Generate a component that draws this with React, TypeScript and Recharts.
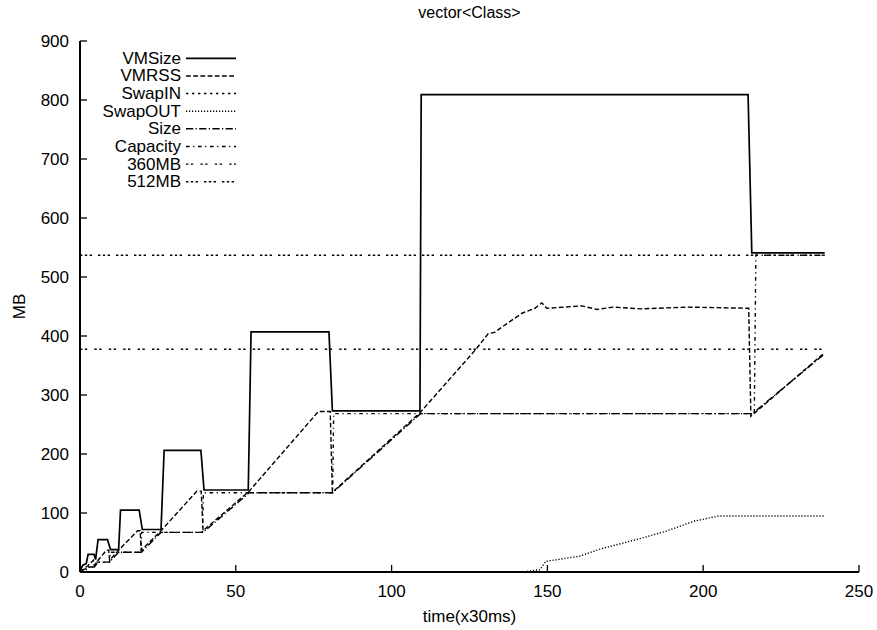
import { LineChart, Line, XAxis, YAxis } from "recharts";

const FONT = '"Liberation Sans", Arial, sans-serif';

// time (x30ms) / MB breakpoints
const vmSizeT = [0, 1, 2, 2.6, 4.5, 5, 5.8, 8.8, 9.8, 12.4, 13, 19, 20, 26, 27, 38.8, 39.8, 54, 54.9, 79.9, 81, 109.1, 109.5, 214.4, 215.6, 239];
const vmSizeV = [3, 12, 14, 30, 30, 21, 55, 55, 38, 38, 105, 105, 72, 72, 206, 206, 139, 139, 407, 407, 273, 273, 809, 809, 541, 541];

const vmRssT = [0, 2.6, 4.3, 4.6, 5.8, 8.5, 9.2, 9.5, 12.4, 18.5, 19.3, 19.7, 26, 37.5, 38.9, 39.5, 54.3, 76.5, 80.3, 81, 109.1, 127, 131, 133, 137, 142, 146, 148.2, 149.8, 161, 166, 171, 180, 195, 214.6, 215.3, 239];
const vmRssV = [0, 11, 20, 11, 20, 37, 37, 20, 37, 70, 70, 37, 70, 137, 137, 70, 137, 272, 272, 135, 270, 377, 404, 406, 421, 439, 447, 456, 447, 451, 445, 449, 446, 449, 447, 264, 372];

const swapInT = [0, 239];
const swapInV = [0, 0];

const swapOutT = [0, 142, 147.6, 149.5, 160.5, 167, 180, 188, 197, 205, 239];
const swapOutV = [0, 0, 4, 18, 27, 39, 57, 69, 86, 95, 95];

const sizeT = [0, 2.6, 4.6, 5.8, 9.5, 12.4, 19.7, 26, 39.5, 54.3, 81, 109.3, 215.8, 239];
const sizeV = [0, 8.4, 8.4, 16.8, 16.8, 33.6, 33.6, 67.1, 67.1, 134.2, 134.2, 268.4, 268.4, 370];

const capacityT = [0, 0.5, 2.6, 2.8, 4.6, 4.8, 9.5, 9.7, 19.5, 19.8, 39.3, 39.6, 81.1, 81.4, 216.4, 216.9, 239];
const capacityV = [0, 4.2, 4.2, 8.4, 8.4, 16.8, 16.8, 33.6, 33.6, 67.1, 67.1, 134.2, 134.2, 268.4, 268.4, 536.9, 536.9];

const mb360T = [0, 239];
const mb360V = [377.5, 377.5];
const mb512T = [0, 239];
const mb512V = [536.9, 536.9];

const xTicks = [0, 50, 100, 150, 200, 250];
const yTicks = [0, 100, 200, 300, 400, 500, 600, 700, 800, 900];

const pairs = (t: number[], v: number[]) => t.map((x, i) => ({ t: x, v: v[i] }));

const series = [
  { name: "VMSize", data: pairs(vmSizeT, vmSizeV), dash: undefined, width: 1.7 },
  { name: "VMRSS", data: pairs(vmRssT, vmRssV), dash: "4.8 2.4", width: 1.4 },
  { name: "SwapIN", data: pairs(swapInT, swapInV), dash: "2.4 3.6", width: 1.4 },
  { name: "SwapOUT", data: pairs(swapOutT, swapOutV), dash: "1.2 1.8", width: 1.4 },
  { name: "Size", data: pairs(sizeT, sizeV), dash: "7.2 2.4 1.2 2.4", width: 1.4 },
  { name: "Capacity", data: pairs(capacityT, capacityV), dash: "3.6 3.6 1.2 3.6", width: 1.4 },
  { name: "360MB", data: pairs(mb360T, mb360V), dash: "2.4 2.4 2.4 7.2", width: 1.4 },
  { name: "512MB", data: pairs(mb512T, mb512V), dash: "2.4 2.4 2.4 2.4 2.4 6", width: 1.4 },
];

const tickStyle = { fill: "#000", fontSize: 17, fontFamily: FONT };
const blank = () => "";

function Overlay() {
  return (
    <svg width={877} height={630} style={{ position: "absolute", left: 0, top: 0, pointerEvents: "none" }}>
      <text x={469.5} y={12} textAnchor="middle" dominantBaseline="central" fontSize={16} fontFamily={FONT} fill="#000">
        vector&lt;Class&gt;
      </text>
      {series.map((s, i) => {
        const y = 58.3 + i * 17.63;
        return (
          <g key={s.name}>
            <text x={181} y={y} textAnchor="end" dominantBaseline="central" fontSize={17} fontFamily={FONT} fill="#000">
              {s.name}
            </text>
            <line x1={186} x2={236} y1={y} y2={y} stroke="#000" strokeWidth={s.width} strokeDasharray={s.dash} />
          </g>
        );
      })}
    </svg>
  );
}

export default function App() {
  return (
    <div style={{ position: "absolute", left: 0, top: 0, width: 877, height: 630, background: "#fff" }}>
      <LineChart width={877} height={630} margin={{ top: 41, right: 18, bottom: 28, left: 0 }}>
        <XAxis
          xAxisId="x"
          dataKey="t"
          type="number"
          domain={[0, 250]}
          ticks={xTicks}
          height={30}
          tickSize={-7}
          tickMargin={20}
          tick={tickStyle}
          axisLine={{ stroke: "#000", strokeWidth: 2 }}
          tickLine={{ stroke: "#000", strokeWidth: 1.3 }}
          label={{ value: "time(x30ms)", position: "bottom", offset: 8, fill: "#000", fontSize: 17, fontFamily: FONT }}
        />
        <XAxis
          xAxisId="x2"
          orientation="top"
          type="number"
          domain={[0, 250]}
          ticks={xTicks}
          height={0}
          tickSize={-7}
          tickFormatter={blank}
          axisLine={{ stroke: "#000", strokeWidth: 2 }}
          tickLine={{ stroke: "#000", strokeWidth: 1.3 }}
        />
        <YAxis
          yAxisId="y"
          type="number"
          domain={[0, 900]}
          ticks={yTicks}
          width={80}
          tickSize={-7}
          tickMargin={18}
          tick={tickStyle}
          axisLine={{ stroke: "#000", strokeWidth: 2 }}
          tickLine={{ stroke: "#000", strokeWidth: 1.3 }}
          label={{ value: "MB", angle: -90, position: "insideLeft", offset: 19, fill: "#000", fontSize: 17, fontFamily: FONT, style: { textAnchor: "middle" } }}
        />
        <YAxis
          yAxisId="y2"
          orientation="right"
          type="number"
          domain={[0, 900]}
          ticks={yTicks}
          width={0}
          tickSize={-7}
          tickFormatter={blank}
          axisLine={{ stroke: "#000", strokeWidth: 2 }}
          tickLine={{ stroke: "#000", strokeWidth: 1.3 }}
        />
        {series.map((s) => (
          <Line
            key={s.name}
            xAxisId="x"
            yAxisId="y"
            data={s.data}
            dataKey="v"
            name={s.name}
            type="linear"
            stroke="#000"
            strokeWidth={s.width}
            strokeDasharray={s.dash}
            dot={false}
            activeDot={false}
            isAnimationActive={false}
          />
        ))}
      </LineChart>
      <Overlay />
    </div>
  );
}
